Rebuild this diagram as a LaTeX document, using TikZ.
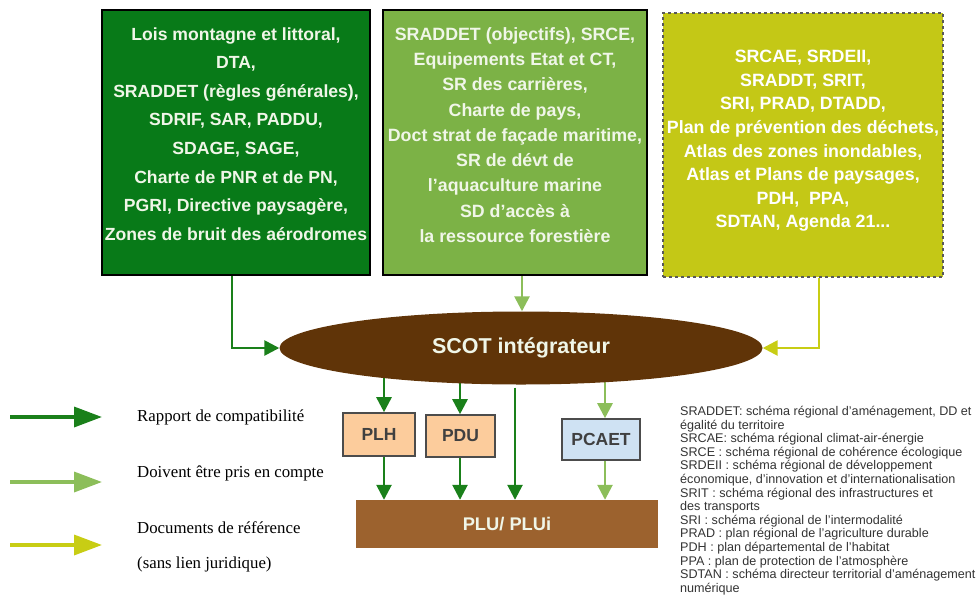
\documentclass[tikz,border=0pt]{standalone}
\usepackage{fontspec}
\setmainfont{Liberation Sans}
\newfontfamily\serifleg{Liberation Serif}
\usetikzlibrary{shapes.geometric,arrows.meta,backgrounds}
\definecolor{bxone}{RGB}{8,122,24}
\definecolor{bxtwo}{RGB}{124,178,70}
\definecolor{bxthree}{RGB}{196,200,22}
\definecolor{scotbrown}{RGB}{96,52,8}
\definecolor{plubrown}{RGB}{156,98,46}
\definecolor{peach}{RGB}{252,204,156}
\definecolor{paleblue}{RGB}{207,226,243}
\definecolor{arrdark}{RGB}{26,128,26}
\definecolor{arrlight}{RGB}{140,190,90}
\definecolor{arryel}{RGB}{200,205,20}
\definecolor{boxtxt}{RGB}{240,246,232}
\begin{document}
\begin{tikzpicture}[x=1pt,y=-1pt,
  bigbox/.style={rectangle, minimum width=#1, minimum height=265pt, inner sep=0pt},
  boxtext/.style={inner sep=0pt, align=center, text=boxtxt},
  smallbox/.style={rectangle, draw=black!70, line width=1.6pt, inner sep=0pt, align=center,
     font=\fontsize{17.5}{20}\selectfont\bfseries, text=black!75},
  darr/.style={draw=arrdark, line width=2.6pt, -{Triangle[length=15pt,width=15pt]}},
  larr/.style={draw=arrlight, line width=2.6pt, -{Triangle[length=15pt,width=15pt]}},
  yarr/.style={draw=arryel, line width=2.6pt, -{Triangle[length=15pt,width=15pt]}},
  legdark/.style={draw=arrdark, line width=3.5pt, -{Triangle[length=28pt,width=20pt]}},
  leglight/.style={draw=arrlight, line width=3.5pt, -{Triangle[length=28pt,width=20pt]}},
  legyel/.style={draw=arryel, line width=3.5pt, -{Triangle[length=28pt,width=20pt]}},
  legtext/.style={anchor=west, inner sep=0pt, font=\serifleg\fontsize{16.8}{18}\selectfont}
]
\useasboundingbox (0,0) rectangle (979,600);

% top boxes
\node[bigbox=268pt, fill=bxone, draw=black, line width=1.6pt] (b1) at (236,142.5) {};
\node[boxtext, font=\fontsize{17.6}{28.6}\selectfont\bfseries] (b1t) at (236,134)
  {Lois montagne et littoral,\\DTA,\\SRADDET (règles générales),\\SDRIF, SAR, PADDU,\\SDAGE, SAGE,\\Charte de PNR et de PN,\\PGRI, Directive paysagère,\\Zones de bruit des aérodromes};
\node[bigbox=264pt, fill=bxtwo, draw=black, line width=1.6pt] (b2) at (515,142.5) {};
\node[boxtext, font=\fontsize{17.8}{25.3}\selectfont\bfseries] (b2t) at (515,135)
  {SRADDET (objectifs), SRCE,\\Equipements Etat et CT,\\SR des carrières,\\Charte de pays,\\Doct strat de façade maritime,\\SR de dévt de\\l’aquaculture marine\\SD d’accès à\\la ressource forestière};
\node[bigbox=280pt, minimum height=264pt, fill=bxthree, draw=black!65, dashed, line width=1.6pt] (b3) at (803,145) {};
\node[boxtext, text=white, font=\fontsize{17.8}{23.6}\selectfont\bfseries] (b3t) at (803,141)
  {SRCAE, SRDEII,\\SRADDT, SRIT,\\SRI, PRAD, DTADD,\\Plan de prévention des déchets,\\Atlas des zones inondables,\\Atlas et Plans de paysages,\\PDH,\ \ PPA,\\SDTAN, Agenda 21...};

% SCOT ellipse
\node[ellipse, fill=scotbrown, minimum width=483pt, minimum height=73pt, inner sep=0pt,
  text=boxtxt, font=\fontsize{21.5}{24}\selectfont\bfseries] (scot) at (521,348) {SCOT intégrateur};

% small boxes
\node[smallbox, fill=peach, minimum width=72pt, minimum height=43pt] (plh) at (379,434.5) {PLH};
\node[smallbox, fill=peach, minimum width=69pt, minimum height=42pt] (pdu) at (460.5,436) {PDU};
\node[smallbox, fill=paleblue, minimum width=78pt, minimum height=41pt] (pcaet) at (601,439.5) {PCAET};
\node[rectangle, fill=plubrown, minimum width=302pt, minimum height=48pt, inner sep=0pt,
  text=boxtxt, font=\fontsize{18.3}{20}\selectfont\bfseries] (plu) at (507,524) {PLU/ PLUi};

% x positions of arrows
\coordinate (xa1) at (232,0);
\coordinate (xa2) at (522,0);
\coordinate (xa3) at (819,0);
\coordinate (xp1) at (384,0);
\coordinate (xp2) at (460,0);
\coordinate (xp3) at (515,0);
\coordinate (xp4) at (605,0);

\begin{pgfonlayer}{background}
\draw[darr] (b1.south -| xa1) |- (scot.west);
\draw[larr] (b2.south -| xa2) -- (scot.north -| xa2);
\draw[yarr] (b3.south -| xa3) |- (scot.east);
\draw[darr] (scot.center -| xp1) -- (plh.north -| xp1);
\draw[darr] (scot.center -| xp2) -- (pdu.north -| xp2);
\draw[darr] ([yshift=-3pt]scot.south -| xp3) -- (plu.north -| xp3);
\draw[larr] (scot.center -| xp4) -- (pcaet.north -| xp4);
\draw[darr] (plh.south -| xp1) -- (plu.north -| xp1);
\draw[darr] (pdu.south -| xp2) -- (plu.north -| xp2);
\draw[larr] (pcaet.south -| xp4) -- (plu.north -| xp4);
\end{pgfonlayer}

% legend
\coordinate (l1s) at (10,417); \coordinate (l1e) at (102,417);
\coordinate (l2s) at (10,482); \coordinate (l2e) at (102,482);
\coordinate (l3s) at (10,545); \coordinate (l3e) at (102,545);
\draw[legdark] (l1s) -- (l1e);
\draw[leglight] (l2s) -- (l2e);
\draw[legyel] (l3s) -- (l3e);
\node[legtext] (t1) at (137,417) {Rapport de compatibilité};
\node[legtext] (t2) at (137,473) {Doivent être pris en compte};
\node[legtext] (t3) at (137,528) {Documents de référence};
\node[legtext] (t4) at (137,564) {(sans lien juridique)};

% abbreviations
\node[anchor=north west, inner sep=0pt, align=left, text=black!80,
  font=\fontsize{12.6}{13.6}\selectfont] (abbr) at (680,406)
  {SRADDET: schéma régional d’aménagement, DD et\\
   égalité du territoire\\
   SRCAE: schéma régional climat-air-énergie\\
   SRCE : schéma régional de cohérence écologique\\
   SRDEII : schéma régional de développement\\
   économique, d’innovation et d’internationalisation\\
   SRIT : schéma régional des infrastructures et\\
   des transports\\
   SRI : schéma régional de l’intermodalité\\
   PRAD : plan régional de l’agriculture durable\\
   PDH : plan départemental de l’habitat\\
   PPA : plan de protection de l’atmosphère\\
   SDTAN : schéma directeur territorial d’aménagement\\
   numérique};
\end{tikzpicture}
\end{document}
